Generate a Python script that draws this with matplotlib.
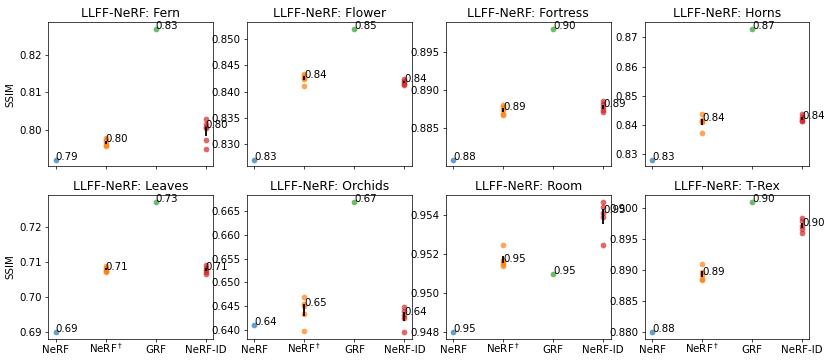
import numpy as np
import matplotlib
matplotlib.use("Agg")
import matplotlib.pyplot as plt
from matplotlib.ticker import MaxNLocator

scenes = ["Fern", "Flower", "Fortress", "Horns", "Leaves", "Orchids", "Room", "T-Rex"]
methods = ["NeRF", r"NeRF$^\dagger$", "GRF", "NeRF-ID"]
colors = ["tab:blue", "tab:orange", "tab:green", "tab:red"]

nerf = [0.7922, 0.8270, 0.8809, 0.8281, 0.6900, 0.6409, 0.9480, 0.8800]
grf = [0.8269, 0.8520, 0.8981, 0.8730, 0.7271, 0.6671, 0.9510, 0.9011]
nerf_dagger = [
    [0.7979, 0.7974, 0.7968, 0.7962, 0.7958],
    [0.8434, 0.8430, 0.8426, 0.8424, 0.8411],
    [0.8881, 0.8878, 0.8874, 0.8869, 0.8867],
    [0.8437, 0.8418, 0.8413, 0.8410, 0.8374],
    [0.7088, 0.7083, 0.7078, 0.7074, 0.7071],
    [0.6470, 0.6455, 0.6451, 0.6434, 0.6398],
    [0.9525, 0.9517, 0.9516, 0.9515, 0.9514],
    [0.8910, 0.8898, 0.8893, 0.8886, 0.8884],
]
nerf_id = [
    [0.8030, 0.8017, 0.8009, 0.8005, 0.7973, 0.7951],
    [0.8424, 0.8421, 0.8418, 0.8414, 0.8412],
    [0.8886, 0.8882, 0.8878, 0.8874, 0.8872],
    [0.8436, 0.8428, 0.8420, 0.8413, 0.8412],
    [0.7090, 0.7084, 0.7078, 0.7070, 0.7065],
    [0.6447, 0.6440, 0.6432, 0.6425, 0.6394],
    [0.9547, 0.9544, 0.9541, 0.9539, 0.9525],
    [0.8984, 0.8979, 0.8972, 0.8967, 0.8961],
]

plt.rcParams["font.size"] = 11.4
dpi = 65
fig, axes = plt.subplots(2, 4, figsize=(831 / dpi, 363 / dpi), dpi=dpi, sharex=True)
fig.subplots_adjust(left=0.058, right=0.974, bottom=0.066, top=0.939,
                    wspace=0.206, hspace=0.2)

for k, ax in enumerate(axes.flat):
    groups = [[nerf[k]], nerf_dagger[k], [grf[k]], nerf_id[k]]
    for i, vals in enumerate(groups):
        vals = np.array(vals)
        ax.scatter(np.full(len(vals), i), vals, color=colors[i], alpha=0.7, s=40, lw=0)
        if len(vals) > 1:
            se = vals.std(ddof=1) / np.sqrt(len(vals))
            ax.errorbar(i, vals.mean(), yerr=se, color="black", lw=2, capsize=0)
        med = np.median(vals)
        ax.text(i, med, f"{med:.2f}")
    ax.set_title(f"LLFF-NeRF: {scenes[k]}")
    ax.yaxis.set_major_locator(MaxNLocator(nbins=7, steps=[1, 2, 2.5, 5, 10]))
    ax.set_xticks(range(4))
    ax.set_xticklabels(methods)
    ax.tick_params(axis="x", pad=12)
    for lbl in ax.get_xticklabels():
        lbl.set_va("baseline")
    if k % 4 == 0:
        ax.set_ylabel("SSIM")

fig.savefig("out.png", dpi=dpi)
